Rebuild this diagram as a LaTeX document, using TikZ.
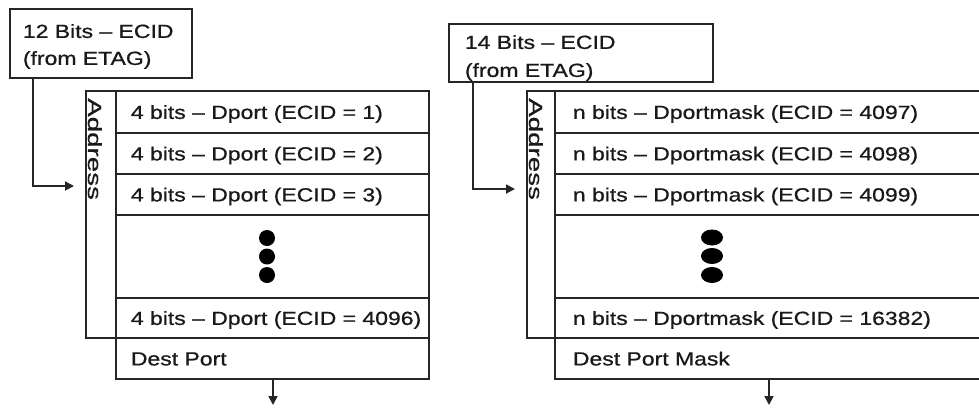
\documentclass[tikz,border=0pt]{standalone}
\usepackage{fontspec}
\setmainfont{Liberation Sans}[FakeStretch=1.21,FakeBold=0.7]
\newfontfamily\addrfont{Liberation Sans}[FakeStretch=1.46,FakeBold=0.7]
\usetikzlibrary{arrows.meta,shapes.geometric}
\begin{document}
\begin{tikzpicture}[x=1pt,y=-1pt,
  ln/.style={line width=1.8pt, draw=black!85},
  cell/.style={ln, rectangle, anchor=north west, inner ysep=0pt,
    text height=14pt, text depth=0pt, align=left,
    font=\fontsize{19}{23}\selectfont, text=black!90},
  lcell/.style={cell, inner xsep=15pt, text width=283pt},
  rcell/.style={cell, inner xsep=18pt, text width=410pt},
  col/.style={ln, rectangle, anchor=north west, inner sep=0pt, minimum height=247pt},
  addr/.style={rotate=-90, anchor=base west, inner sep=0pt,
    font=\addrfont\fontsize{19}{23}\selectfont, text=black!90},
  ecid/.style={ln, rectangle, anchor=north west, inner ysep=0pt, align=left,
    text height=13.6pt, text=black!90},
  arr/.style={ln, -{Triangle[length=9pt,width=9pt]}},
  dotL/.style={circle, fill=black, inner sep=0pt, minimum size=16pt},
  dotR/.style={ellipse, fill=black, inner sep=0pt, minimum width=22pt, minimum height=16pt}
]
\useasboundingbox (0,0) rectangle (979,408);
\fill[white] (0,0) rectangle (979,408);
\begin{scope}
\clip (0,0) rectangle (979,408);

% ---------- left table ----------
\node[ecid, minimum width=182pt, minimum height=69pt, inner xsep=13pt, text width=156pt,
  text depth=24.6pt, font=\fontsize{19}{27}\selectfont] (ecidL) at (9,8)
  {12 Bits – ECID\\(from ETAG)};

\node[col, minimum width=30pt] (colL) at (85,90) {};
\node[addr] (addrL) at (88,98) {Address};

\node[lcell, minimum height=42pt] (l1) at (115,90) {\mbox{4 bits – Dport (ECID = 1)}};
\node[lcell, minimum height=41pt] (l2) at (115,132) {\mbox{4 bits – Dport (ECID = 2)}};
\node[lcell, minimum height=41pt] (l3) at (115,173) {\mbox{4 bits – Dport (ECID = 3)}};
\node[lcell, minimum height=83pt] (l4) at (115,214) {};
\node[lcell, minimum height=40pt] (l5) at (115,297) {\mbox{4 bits – Dport (ECID = 4096)}};
\node[lcell, minimum height=41pt] (destL) at (115,337) {Dest Port};

\node[dotL] (dl1) at (267,238) {};
\node[dotL] (dl2) at (267,256.5) {};
\node[dotL] (dl3) at (267,275) {};

\coordinate (inL) at (74,186);
\coordinate (outL) at (273,405);
\draw[arr] ([xshift=24pt]ecidL.south west) |- (inL);
\draw[arr] (destL.south -| outL) -- (outL);

% ---------- right table ----------
\node[ecid, minimum width=264pt, minimum height=58pt, inner xsep=16pt, text width=232pt,
  text depth=21.6pt, font=\fontsize{19}{28}\selectfont] (ecidR) at (448,23)
  {14 Bits – ECID\\(from ETAG)};

\node[col, minimum width=28pt] (colR) at (526,90) {};
\node[addr] (addrR) at (529,98) {Address};

\node[rcell, minimum height=42pt] (r1) at (554,90) {\mbox{n bits – Dportmask (ECID = 4097)}};
\node[rcell, minimum height=41pt] (r2) at (554,132) {\mbox{n bits – Dportmask (ECID = 4098)}};
\node[rcell, minimum height=41pt] (r3) at (554,173) {\mbox{n bits – Dportmask (ECID = 4099)}};
\node[rcell, minimum height=83pt] (r4) at (554,214) {};
\node[rcell, minimum height=40pt] (r5) at (554,297) {\mbox{n bits – Dportmask (ECID = 16382)}};
\node[rcell, minimum height=41pt] (destR) at (554,337) {Dest Port Mask};

\node[dotR] (dr1) at (712,237.5) {};
\node[dotR] (dr2) at (712,256) {};
\node[dotR] (dr3) at (712,275) {};

\coordinate (inR) at (515,189);
\coordinate (outR) at (769,405);
\draw[arr] ([xshift=25pt]ecidR.south west) |- (inR);
\draw[arr] (destR.south -| outR) -- (outR);
\end{scope}
\end{tikzpicture}
\end{document}
